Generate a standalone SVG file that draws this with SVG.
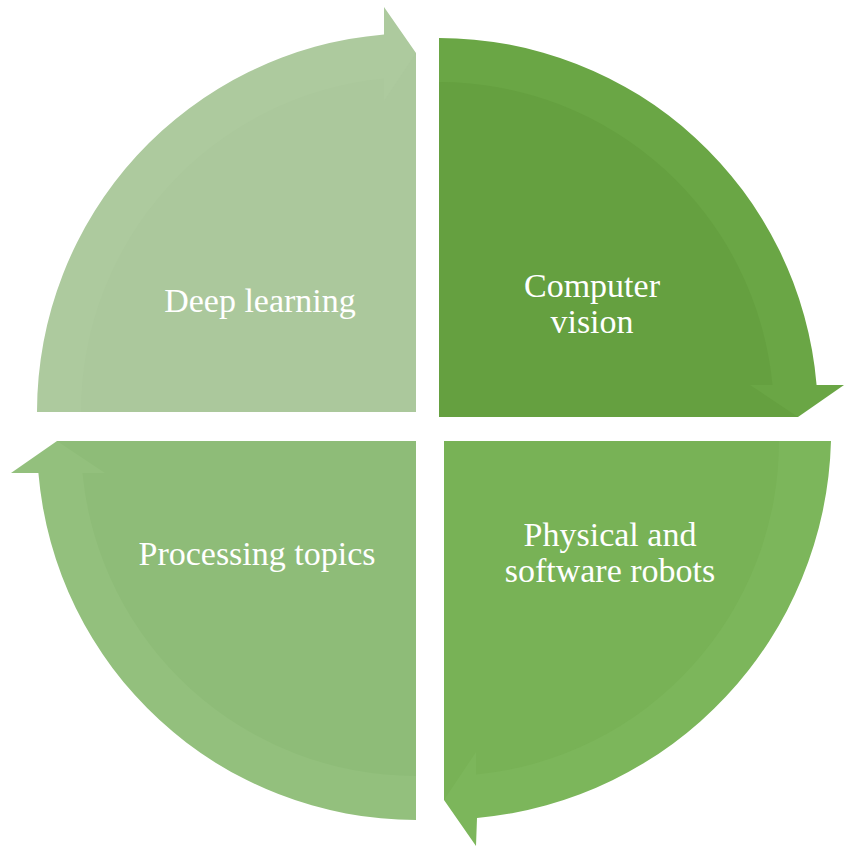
<svg xmlns="http://www.w3.org/2000/svg" xmlns:xlink="http://www.w3.org/1999/xlink" width="846" height="847" viewBox="0 0 846 847">
<style>
.lbl{font-family:"Liberation Serif","Times New Roman",serif;font-size:34px;fill:#ffffff;text-anchor:middle}
.tl .o{fill:#adca9e}.tl .i{fill:#abc89c}
.tr .o{fill:#6aa645}.tr .i{fill:#65a040}
.br .o{fill:#7cb65b}.br .i{fill:#78b256}
.bl .o{fill:#93c07d}.bl .i{fill:#8ebc78}
</style>
<defs>
<path id="outer" d="M0 0 L0 -379 A379 379 0 0 1 377.6 -32 L405 -32 L359 0 Z"/>
<path id="inner" d="M0 0 L0 -335 A335 335 0 0 1 333.5 -32 L311 -32 L359 0 Z"/>
</defs>
<rect width="846" height="847" fill="#ffffff"/>
<g id="deep-learning" class="tl">
<g transform="translate(416,412) rotate(-90)"><use xlink:href="#outer" class="o"/><use xlink:href="#inner" class="i"/></g>
<text class="lbl" x="260" y="312">Deep learning</text>
</g>
<g id="computer-vision" class="tr">
<g transform="translate(439,417)"><use xlink:href="#outer" class="o"/><use xlink:href="#inner" class="i"/></g>
<text class="lbl" x="592" y="297">Computer</text>
<text class="lbl" x="592" y="333">vision</text>
</g>
<g id="robots" class="br">
<path class="o" d="M444 441 L831 441 A389 389 0 0 1 477 818 L476 846 L444 800 Z"/>
<g transform="translate(444,441) rotate(90)"><use xlink:href="#inner" class="i"/></g>
<text class="lbl" x="610" y="546">Physical and</text>
<text class="lbl" x="610" y="582">software robots</text>
</g>
<g id="processing-topics" class="bl">
<g transform="translate(416,441) rotate(180)"><use xlink:href="#outer" class="o"/><use xlink:href="#inner" class="i"/></g>
<text class="lbl" x="257" y="565">Processing topics</text>
</g>
<g id="connectors"></g>
</svg>
